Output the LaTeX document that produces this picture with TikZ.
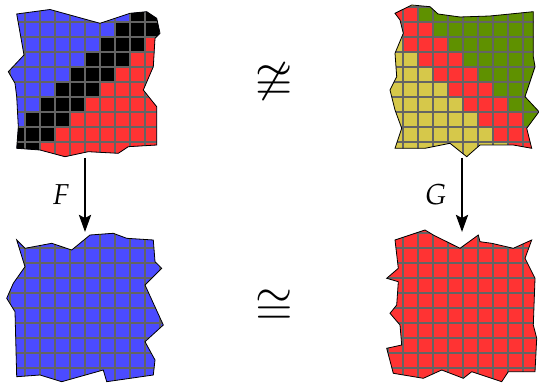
\documentclass[tikz,border=0pt]{standalone}
\usepackage{amsmath,amssymb}
\usepackage{mathpazo}
\usepackage{tikz}
\usetikzlibrary{arrows.meta}

\definecolor{patchblue}{RGB}{75,75,255}
\definecolor{patchred}{RGB}{255,51,51}
\definecolor{patchgreen}{RGB}{95,145,0}
\definecolor{patchyellow}{RGB}{214,200,74}
\definecolor{gridgray}{RGB}{100,100,100}

\tikzset{
  patchgrid/.style={gridgray, line width=0.8pt},
  patchedge/.style={draw=black, line width=0.4pt},
  maparrow/.style={-{Stealth[length=8.5pt,width=6pt,inset=1.5pt]}, line width=1.3pt},
  maplabel/.style={font=\Large, inner sep=2pt},
  relsym/.style={font=\fontsize{23}{28}\selectfont, inner sep=0pt}
}

% grid lines of a 10x10 patch, corner at (#1,#2), cells 15 units
\newcommand{\patchlines}[2]{%
  \foreach \k in {0,...,10}{%
    \draw[patchgrid] ({#1+15*\k},{#2-12}) -- ({#1+15*\k},{#2+162});
    \draw[patchgrid] ({#1-12},{#2+15*\k}) -- ({#1+162},{#2+15*\k});
  }}

% outlines of the four patches
\def\patchTL{(16.7,14) -- (50,9.5) -- (100,23.3) -- (130,13.3) -- (146.7,11.7) -- (156.7,18.3) -- (160,33.3) -- (155,38.3) -- (153.3,66.7) -- (143.3,90) -- (156.7,106.7) -- (156.7,145) -- (128.3,146.7) -- (118.3,153.3) -- (88.3,151.7) -- (65,156.7) -- (40,150) -- (16.7,148.3) -- (18.3,126.7) -- (16.7,96.7) -- (15,83.3) -- (8.3,71.7) -- (24,55) -- cycle}
\def\patchTR{(395,13.3) -- (411.7,5) -- (430,6.7) -- (438,14) -- (460,17) -- (490,16) -- (533.3,11.7) -- (533.3,56.7) -- (535,66.7) -- (525,96.7) -- (539,111.7) -- (526.7,128.3) -- (531.7,148.3) -- (513.3,145) -- (480,145) -- (466.7,156.7) -- (450,143.3) -- (425,148.3) -- (395,148.3) -- (401.7,128.3) -- (395,110) -- (390,90) -- (396.7,76.7) -- (395,53.3) -- (403.3,33.3) -- (400,20) -- cycle}
\def\patchBL{(16.7,240) -- (25,248.3) -- (51.7,243.3) -- (71.7,250) -- (90,235) -- (113.3,233.3) -- (126.7,238.3) -- (153.3,240) -- (155,261.7) -- (161.7,268.3) -- (145,285) -- (163.3,325) -- (145,341.7) -- (155,360) -- (153.3,375) -- (106.7,381.7) -- (103.3,370) -- (61.7,381.7) -- (40,375) -- (16.7,376.7) -- (15,311.7) -- (6.7,298.3) -- (13.3,283.3) -- (25,266.7) -- cycle}
\def\patchBR{(395,240) -- (425,230) -- (433.3,235) -- (460,248.3) -- (478.3,235) -- (480,241.7) -- (491.7,243.3) -- (513.3,248.3) -- (531.7,240) -- (525,258.3) -- (535,278.3) -- (533.3,325) -- (536.7,338.3) -- (535,371.7) -- (508.3,371.7) -- (501.7,381.7) -- (471.7,371.7) -- (463.3,378.3) -- (441.7,370) -- (423.3,378.3) -- (393.3,373.3) -- (386.7,348.3) -- (401.7,345) -- (400,325) -- (390,313.3) -- (396.7,305) -- (398.3,281.7) -- (386.7,278.3) -- (398.3,268.3) -- cycle}

\begin{document}
\begin{tikzpicture}[x=0.5pt, y=-0.5pt]
  \useasboundingbox (0,0) rectangle (539,384);

  % top left: blue / black band / red
  \begin{scope}
    \clip \patchTL;
    \fill[patchblue] (0,0) rectangle (180,170);
    \foreach \r in {0,...,9}{
      \fill[patchred] ({10+15*(11-\r)},{7+15*\r}) rectangle (180,{22+15*\r});
      \fill[black] ({10+15*(8-\r)},{7+15*\r}) rectangle ++(45,15);
    }
    \patchlines{10}{7}
  \end{scope}
  \draw[patchedge] \patchTL;

  % top right: yellow / red band / green
  \begin{scope}
    \clip \patchTR;
    \fill[patchyellow] (380,0) rectangle (539,170);
    \foreach \r in {0,...,9}{
      \fill[patchgreen] ({388+15*(\r+2)},{7+15*\r}) rectangle (539,{22+15*\r});
      \fill[patchred] ({388+15*(\r-1)},{7+15*\r}) rectangle ++(45,15);
    }
    \patchlines{388}{7}
  \end{scope}
  \draw[patchedge] \patchTR;

  % bottom left: all blue
  \begin{scope}
    \clip \patchBL;
    \fill[patchblue] (0,225) rectangle (180,384);
    \patchlines{10}{233}
  \end{scope}
  \draw[patchedge] \patchBL;

  % bottom right: all red
  \begin{scope}
    \clip \patchBR;
    \fill[patchred] (380,225) rectangle (539,384);
    \patchlines{388}{233}
  \end{scope}
  \draw[patchedge] \patchBR;

  % maps
  \coordinate (ftop) at (85,158);
  \coordinate (fbot) at (85,232);
  \coordinate (gtop) at (462,158);
  \coordinate (gbot) at (462,232);
  \draw[maparrow] (ftop) -- node[maplabel, left=5pt] (flabel) {$F$} (fbot);
  \draw[maparrow] (gtop) -- node[maplabel, left=5pt] (glabel) {$G$} (gbot);

  % relations
  \node[relsym] (ncong) at (274,82) {$\ncong$};
  \node[relsym] (cong) at (274,307) {$\cong$};
\end{tikzpicture}
\end{document}
